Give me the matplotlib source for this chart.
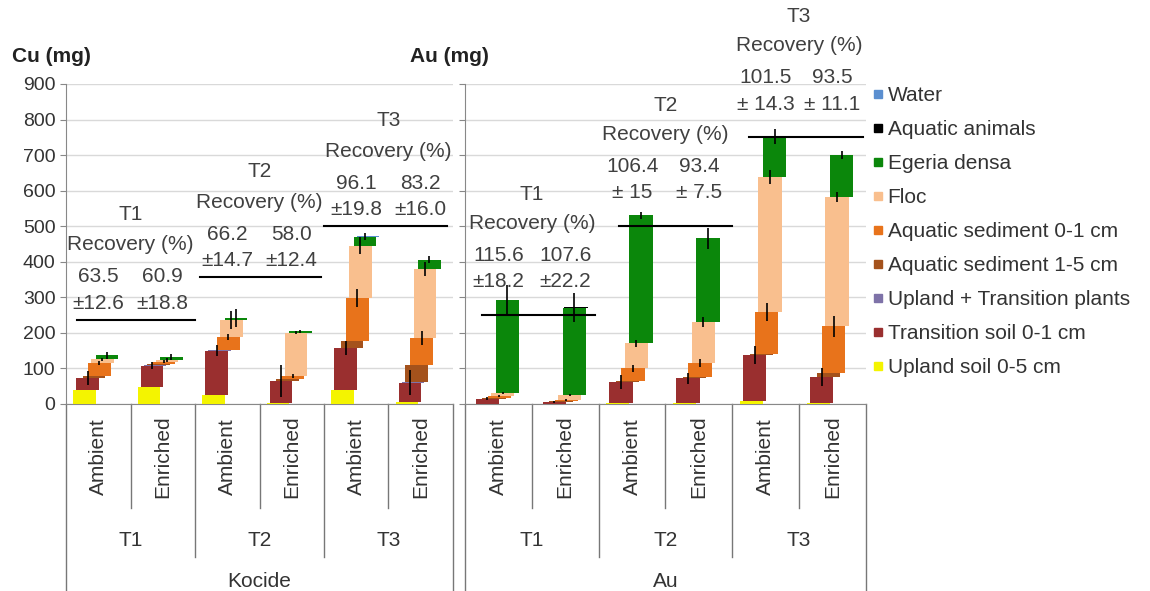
import matplotlib.pyplot as plt
from matplotlib.lines import Line2D
import numpy as np

plt.rcParams['font.family'] = ['Liberation Sans', 'DejaVu Sans']

components = ['Upland soil 0-5 cm', 'Transition soil 0-1 cm', 'Upland + Transition plants',
              'Aquatic sediment 1-5 cm', 'Aquatic sediment 0-1 cm', 'Floc',
              'Egeria densa', 'Aquatic animals', 'Water']
colors = ['#f4f400', '#9a2f2f', '#7e72a8', '#a4521c', '#e8731b', '#f9bf8e',
          '#0b870b', '#000000', '#5b8fd0']

categories = ['Ambient', 'Enriched'] * 3
groups = ['T1', 'T2', 'T3']

# Cu (mg), bars: T1 Amb, T1 Enr, T2 Amb, T2 Enr, T3 Amb, T3 Enr
cu_upland = [38, 48, 25, 3, 40, 5]
cu_transition = [35, 60, 125, 62, 118, 55]
cu_plants = [0.5, 0.5, 0.5, 0.5, 0.5, 0.5]
cu_sed15 = [4, 3, 2, 5, 20, 48]
cu_sed01 = [38, 8, 36, 8, 120, 78]
cu_floc = [10, 4, 48, 122, 147, 194]
cu_egeria = [12, 8, 5, 4, 25, 25]
cu_animals = [0.3, 0.3, 0.3, 0.3, 0.3, 0.3]
cu_water = [0.3, 0.3, 0.3, 0.3, 0.3, 0.3]

# Au (mg)
au_upland = [1, 1, 2, 2, 8, 3]
au_transition = [14, 5, 60, 70, 130, 73]
au_plants = [0.3, 0.3, 0.3, 0.3, 0.3, 0.3]
au_sed15 = [2, 1, 2, 3, 3, 12]
au_sed01 = [5, 5, 36, 40, 118, 130]
au_floc = [8, 14, 71, 115, 380, 364]
au_egeria = [262, 245, 360, 236, 113, 118]
au_animals = [0.3, 0.3, 0.3, 0.3, 0.3, 0.3]
au_water = [0.3, 0.3, 0.3, 0.3, 0.3, 0.3]

# error bars on some segment tops
cu_err_transition = [20, 10, 15, 45, 20, 35]
cu_err_sed01 = [5, 5, 8, 5, 25, 20]
cu_err_floc = [5, 5, 25, 5, 25, 20]
cu_err_egeria = [10, 8, 25, 5, 10, 10]
au_err_transition = [5, 3, 20, 15, 25, 25]
au_err_sed01 = [3, 3, 10, 10, 25, 30]
au_err_floc = [3, 3, 10, 15, 20, 15]
au_err_egeria = [42, 40, 10, 30, 20, 10]

# added amount lines and recovery
cu_added = [237, 357, 500]
au_added = [250, 500, 750]
cu_recovery = ['63.5', '60.9', '66.2', '58.0', '96.1', '83.2']
cu_recovery_sd = ['±12.6', '±18.8', '±14.7', '±12.4', '±19.8', '±16.0']
au_recovery = ['115.6', '107.6', '106.4', '93.4', '101.5', '93.5']
au_recovery_sd = ['±18.2', '±22.2', '± 15', '± 7.5', '± 14.3', '± 11.1']

offsets = [-0.215, -0.165, -0.12, -0.065, 0.015, 0.065, 0.135, 0.16, 0.18]
bar_w = 0.35
fs = 15

fig = plt.figure(figsize=(11.5, 5.91), dpi=100)
ax1 = fig.add_axes([66 / 1150, 187 / 591, 387 / 1150, 320 / 591])
ax2 = fig.add_axes([465 / 1150, 187 / 591, 401 / 1150, 320 / 591])


def draw_panel(ax, segs, errs, added, rec, rec_sd, line_x, txt_off, name, show_labels):
    x = np.arange(6)
    bottom = np.zeros(6)
    for k, vals in enumerate(segs):
        vals = np.array(vals, dtype=float)
        err = errs.get(k)
        ax.bar(x + offsets[k], vals, bar_w, bottom=bottom, color=colors[k], zorder=3)
        if err is not None:
            ax.errorbar(x + offsets[k], bottom + vals, yerr=err, fmt='none',
                        ecolor='black', elinewidth=1.2, capsize=0, zorder=4)
        bottom += vals

    for g in range(3):
        ax.plot(line_x[g], [added[g], added[g]], color='black', lw=1.5, zorder=5)
        for j in (2 * g, 2 * g + 1):
            ax.annotate(rec_sd[j], (j, added[g]), xytext=(0, txt_off[0]),
                        textcoords='offset points', ha='center', va='center',
                        fontsize=fs, color='#404040')
            ax.annotate(rec[j], (j, added[g]), xytext=(0, txt_off[1]),
                        textcoords='offset points', ha='center', va='center',
                        fontsize=fs, color='#404040')
        ax.annotate('Recovery (%)', (2 * g + 0.5, added[g]), xytext=(0, txt_off[2]),
                    textcoords='offset points', ha='center', va='center',
                    fontsize=fs, color='#404040', annotation_clip=False)
        ax.annotate(groups[g], (2 * g + 0.5, added[g]), xytext=(0, txt_off[3]),
                    textcoords='offset points', ha='center', va='center',
                    fontsize=fs, color='#404040', annotation_clip=False)

    ax.set_xlim(-0.5, 5.5)
    ax.set_ylim(0, 900)
    ax.set_yticks(range(0, 1000, 100))
    ax.yaxis.grid(True, color='#d9d9d9', lw=1)
    ax.set_axisbelow(True)
    ax.tick_params(axis='y', direction='out', length=4, color='#888888',
                   labelsize=14, labelcolor='#333333', labelleft=show_labels)
    ax.set_xticks([])
    for s in ('top', 'right'):
        ax.spines[s].set_visible(False)
    for s in ('left', 'bottom'):
        ax.spines[s].set_color('#888888')

    # multi-level category axis
    tr = ax.get_xaxis_transform()
    for b in np.arange(-0.5, 6.0, 1.0):
        if b in (-0.5, 5.5):
            y_end = -0.584
        elif b in (1.5, 3.5):
            y_end = -0.478
        else:
            y_end = -0.325
        ax.plot([b, b], [0, y_end], color='#777777', lw=1, transform=tr, clip_on=False)
    for j, c in enumerate(categories):
        ax.text(j, -0.166, c, rotation=90, ha='center', va='center', fontsize=fs,
                color='#333333', transform=tr)
    for g in range(3):
        ax.text(2 * g + 0.5, -0.425, groups[g], ha='center', va='center', fontsize=fs,
                color='#333333', transform=tr)
    ax.text(2.5, -0.556, name, ha='center', va='center', fontsize=fs,
            color='#333333', transform=tr)


cu_segs = [cu_upland, cu_transition, cu_plants, cu_sed15, cu_sed01, cu_floc,
           cu_egeria, cu_animals, cu_water]
au_segs = [au_upland, au_transition, au_plants, au_sed15, au_sed01, au_floc,
           au_egeria, au_animals, au_water]
cu_errs = {1: cu_err_transition, 4: cu_err_sed01, 5: cu_err_floc, 6: cu_err_egeria}
au_errs = {1: au_err_transition, 4: au_err_sed01, 5: au_err_floc, 6: au_err_egeria}

draw_panel(ax1, cu_segs, cu_errs, cu_added, cu_recovery, cu_recovery_sd,
           [[-0.33, 1.5], [1.57, 3.45], [3.5, 5.4]], (12, 31, 54, 76), 'Kocide', True)
draw_panel(ax2, au_segs, au_errs, au_added, au_recovery, au_recovery_sd,
           [[-0.25, 1.45], [1.8, 3.5], [3.75, 5.45]], (24, 43, 66, 87), 'Au', False)

fig.text(12 / 1150, 1 - 57 / 591, 'Cu (mg)', fontsize=15, fontweight='bold',
         va='center', ha='left', color='#222222')
fig.text(410 / 1150, 1 - 57 / 591, 'Au (mg)', fontsize=15, fontweight='bold',
         va='center', ha='left', color='#222222')

handles = [Line2D([], [], ls='none', marker='s', markersize=6, color=colors[k])
           for k in range(8, -1, -1)]
labels = [components[k] for k in range(8, -1, -1)]
fig.legend(handles, labels, loc='upper left', bbox_to_anchor=(872 / 1150, 1 - 86 / 591),
           frameon=False, fontsize=15, handlelength=0.55, handletextpad=0.2,
           labelspacing=0.72, borderaxespad=0, borderpad=0, labelcolor='#333333')

fig.savefig('out.png', dpi=100)
